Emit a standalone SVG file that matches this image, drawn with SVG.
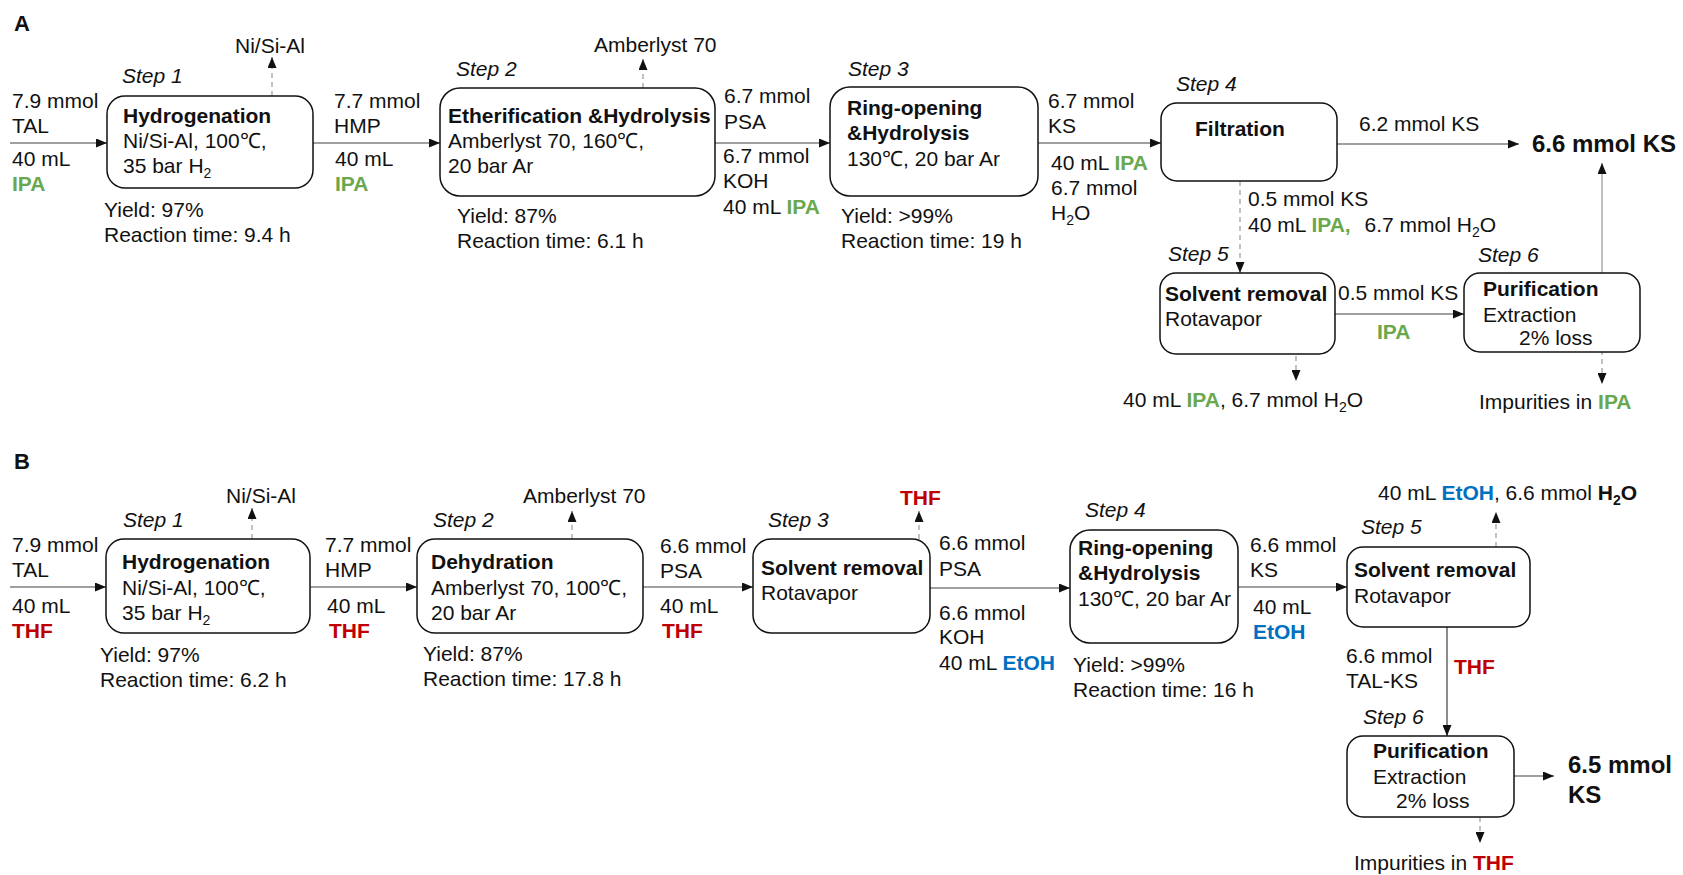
<svg xmlns="http://www.w3.org/2000/svg" width="1683" height="875" viewBox="0 0 1683 875">
<style>
text{font-family:"Liberation Sans",Arial,sans-serif;font-size:21px;fill:#111}
.b{font-weight:bold}
.i{font-style:italic}
.big{font-weight:bold;font-size:24px}
.lbl{font-weight:bold;font-size:22px}
.g{fill:#6aa84f;font-weight:bold}
.r{fill:#c00000;font-weight:bold}
.bl{fill:#0070c0;font-weight:bold}
.box{fill:#fff;stroke:#111;stroke-width:1.5}
.ln{stroke:#404040;stroke-width:1.2;fill:none}
.ds{stroke:#999;stroke-width:1.2;stroke-dasharray:5 4;fill:none}
.gl{stroke:#aaa;stroke-width:1.5;fill:none}
</style>
<defs>
<marker id="ah" markerUnits="userSpaceOnUse" markerWidth="11" markerHeight="9" refX="11" refY="4.5" orient="auto"><path d="M0,0 L11,4.5 L0,9 z" fill="#111"/></marker>
</defs>
<rect width="1683" height="875" fill="#fff"/>

<g id="connectors">
<!-- A -->
<line class="ln" x1="10" y1="143" x2="107" y2="143" marker-end="url(#ah)"/>
<line class="ln" x1="313" y1="143" x2="440" y2="143" marker-end="url(#ah)"/>
<line class="ln" x1="715" y1="143" x2="830" y2="143" marker-end="url(#ah)"/>
<line class="ln" x1="1038" y1="143" x2="1161" y2="143" marker-end="url(#ah)"/>
<line class="ln" x1="1337" y1="144" x2="1519" y2="144" marker-end="url(#ah)"/>
<line class="gl" x1="1602" y1="273" x2="1602" y2="163" marker-end="url(#ah)"/>
<line class="ds" x1="1240" y1="181" x2="1240" y2="273" marker-end="url(#ah)"/>
<line class="ln" x1="1335" y1="314" x2="1464" y2="314" marker-end="url(#ah)"/>
<line class="ds" x1="1296" y1="347" x2="1296" y2="381" marker-end="url(#ah)"/>
<line class="ds" x1="1602" y1="350" x2="1602" y2="384" marker-end="url(#ah)"/>
<line class="ds" x1="272" y1="96" x2="272" y2="57" marker-end="url(#ah)"/>
<line class="ds" x1="643" y1="88" x2="643" y2="59" marker-end="url(#ah)"/>
<!-- B -->
<line class="ln" x1="10" y1="587" x2="106" y2="587" marker-end="url(#ah)"/>
<line class="ln" x1="310" y1="587" x2="417" y2="587" marker-end="url(#ah)"/>
<line class="ln" x1="643" y1="587" x2="753" y2="587" marker-end="url(#ah)"/>
<line class="ln" x1="930" y1="588" x2="1070" y2="588" marker-end="url(#ah)"/>
<line class="ln" x1="1238" y1="587" x2="1347" y2="587" marker-end="url(#ah)"/>
<line class="ds" x1="252" y1="539" x2="252" y2="508" marker-end="url(#ah)"/>
<line class="ds" x1="572" y1="539" x2="572" y2="511" marker-end="url(#ah)"/>
<line class="ds" x1="919" y1="539" x2="919" y2="511" marker-end="url(#ah)"/>
<line class="ds" x1="1496" y1="547" x2="1496" y2="512" marker-end="url(#ah)"/>
<line class="ln" x1="1447" y1="627" x2="1447" y2="736" marker-end="url(#ah)"/>
<line class="ln" x1="1514" y1="776" x2="1554" y2="776" marker-end="url(#ah)"/>
<line class="ds" x1="1480" y1="808" x2="1480" y2="843" marker-end="url(#ah)"/>
</g>

<g id="labels-A">
<text class="lbl" x="14" y="31">A</text>
<text x="235" y="53">Ni/Si-Al</text>
<text x="12" y="108">7.9 mmol</text>
<text x="12" y="133">TAL</text>
<text x="12" y="166">40 mL</text>
<text class="g" x="12" y="191">IPA</text>
<text x="334" y="108">7.7 mmol</text>
<text x="334" y="133">HMP</text>
<text x="335" y="166">40 mL</text>
<text class="g" x="335" y="191">IPA</text>
<text x="594" y="52">Amberlyst 70</text>
<text x="724" y="103">6.7 mmol</text>
<text x="724" y="129">PSA</text>
<text x="723" y="163">6.7 mmol</text>
<text x="723" y="188">KOH</text>
<text x="723" y="214">40 mL <tspan class="g">IPA</tspan></text>
<text x="1048" y="108">6.7 mmol</text>
<text x="1048" y="133">KS</text>
<text x="1051" y="170">40 mL <tspan class="g">IPA</tspan></text>
<text x="1051" y="195">6.7 mmol</text>
<text x="1051" y="220">H<tspan font-size="14" dy="5">2</tspan><tspan dy="-5">O</tspan></text>
<text x="1359" y="131">6.2 mmol KS</text>
<text class="big" x="1532" y="152">6.6 mmol KS</text>
<text x="1248" y="206">0.5 mmol KS</text>
<text x="1248" y="232">40 mL <tspan class="g">IPA,</tspan> <tspan dx="8">6.7 mmol H</tspan><tspan font-size="14" dy="5">2</tspan><tspan dy="-5">O</tspan></text>
<text x="1338" y="300">0.5 mmol KS</text>
<text class="g" x="1377" y="339">IPA</text>
<text x="1123" y="407">40 mL <tspan class="g">IPA</tspan>, 6.7 mmol H<tspan font-size="14" dy="5">2</tspan><tspan dy="-5">O</tspan></text>
<text x="1479" y="409">Impurities in <tspan class="g">IPA</tspan></text>
</g>

<g id="A-step1">
<text class="i" x="122" y="83">Step 1</text>
<rect class="box" x="107" y="96" width="206" height="92" rx="18"/>
<text class="b" x="123" y="123">Hydrogenation</text>
<text x="123" y="148">Ni/Si-Al, 100℃,</text>
<text x="123" y="173">35 bar H<tspan font-size="14" dy="5">2</tspan></text>
<text x="104" y="217">Yield: 97%</text>
<text x="104" y="242">Reaction time: 9.4 h</text>
</g>
<g id="A-step2">
<text class="i" x="456" y="76">Step 2</text>
<rect class="box" x="440" y="88" width="275" height="108" rx="20"/>
<text class="b" x="448" y="123">Etherification &amp;Hydrolysis</text>
<text x="448" y="148">Amberlyst 70, 160℃,</text>
<text x="448" y="173">20 bar Ar</text>
<text x="457" y="223">Yield: 87%</text>
<text x="457" y="248">Reaction time: 6.1 h</text>
</g>
<g id="A-step3">
<text class="i" x="848" y="76">Step 3</text>
<rect class="box" x="830" y="87" width="208" height="109" rx="20"/>
<text class="b" x="847" y="115">Ring-opening</text>
<text class="b" x="847" y="140">&amp;Hydrolysis</text>
<text x="847" y="166">130℃, 20 bar Ar</text>
<text x="841" y="223">Yield: &gt;99%</text>
<text x="841" y="248">Reaction time: 19 h</text>
</g>
<g id="A-step4">
<text class="i" x="1176" y="91">Step 4</text>
<rect class="box" x="1161" y="103" width="176" height="78" rx="16"/>
<text class="b" x="1195" y="136">Filtration</text>
</g>
<g id="A-step5">
<text class="i" x="1168" y="261">Step 5</text>
<rect class="box" x="1160" y="273" width="175" height="81" rx="16"/>
<text class="b" x="1165" y="301">Solvent removal</text>
<text x="1165" y="326">Rotavapor</text>
</g>
<g id="A-step6">
<text class="i" x="1478" y="262">Step 6</text>
<rect class="box" x="1464" y="273" width="176" height="79" rx="16"/>
<text class="b" x="1483" y="296">Purification</text>
<text x="1483" y="322">Extraction</text>
<text x="1519" y="345">2% loss</text>
</g>

<g id="labels-B">
<text class="lbl" x="14" y="469">B</text>
<text x="226" y="503">Ni/Si-Al</text>
<text x="12" y="552">7.9 mmol</text>
<text x="12" y="577">TAL</text>
<text x="12" y="613">40 mL</text>
<text class="r" x="12" y="638">THF</text>
<text x="325" y="552">7.7 mmol</text>
<text x="325" y="577">HMP</text>
<text x="327" y="613">40 mL</text>
<text class="r" x="329" y="638">THF</text>
<text x="523" y="503">Amberlyst 70</text>
<text x="660" y="553">6.6 mmol</text>
<text x="660" y="578">PSA</text>
<text x="660" y="613">40 mL</text>
<text class="r" x="662" y="638">THF</text>
<text class="r" x="900" y="505">THF</text>
<text x="939" y="550">6.6 mmol</text>
<text x="939" y="576">PSA</text>
<text x="939" y="620">6.6 mmol</text>
<text x="939" y="644">KOH</text>
<text x="939" y="670">40 mL <tspan class="bl">EtOH</tspan></text>
<text x="1250" y="552">6.6 mmol</text>
<text x="1250" y="577">KS</text>
<text x="1253" y="614">40 mL</text>
<text class="bl" x="1253" y="639">EtOH</text>
<text x="1378" y="500">40 mL <tspan class="bl">EtOH</tspan>, 6.6 mmol <tspan class="b">H<tspan font-size="14" dy="5">2</tspan><tspan dy="-5">O</tspan></tspan></text>
<text x="1346" y="663">6.6 mmol</text>
<text x="1346" y="688">TAL-KS</text>
<text class="r" x="1454" y="674">THF</text>
<text class="big" x="1568" y="773">6.5 mmol</text>
<text class="big" x="1568" y="803">KS</text>
<text x="1354" y="870">Impurities in <tspan class="r">THF</tspan></text>
</g>

<g id="B-step1">
<text class="i" x="123" y="527">Step 1</text>
<rect class="box" x="106" y="539" width="204" height="94" rx="18"/>
<text class="b" x="122" y="569">Hydrogenation</text>
<text x="122" y="595">Ni/Si-Al, 100℃,</text>
<text x="122" y="620">35 bar H<tspan font-size="14" dy="5">2</tspan></text>
<text x="100" y="662">Yield: 97%</text>
<text x="100" y="687">Reaction time: 6.2 h</text>
</g>
<g id="B-step2">
<text class="i" x="433" y="527">Step 2</text>
<rect class="box" x="417" y="539" width="226" height="94" rx="18"/>
<text class="b" x="431" y="569">Dehydration</text>
<text x="431" y="595">Amberlyst 70, 100℃,</text>
<text x="431" y="620">20 bar Ar</text>
<text x="423" y="661">Yield: 87%</text>
<text x="423" y="686">Reaction time: 17.8 h</text>
</g>
<g id="B-step3">
<text class="i" x="768" y="527">Step 3</text>
<rect class="box" x="753" y="539" width="177" height="94" rx="18"/>
<text class="b" x="761" y="575">Solvent removal</text>
<text x="761" y="600">Rotavapor</text>
</g>
<g id="B-step4">
<text class="i" x="1085" y="517">Step 4</text>
<rect class="box" x="1070" y="530" width="168" height="113" rx="20"/>
<text class="b" x="1078" y="555">Ring-opening</text>
<text class="b" x="1078" y="580">&amp;Hydrolysis</text>
<text x="1078" y="606">130℃, 20 bar Ar</text>
<text x="1073" y="672">Yield: &gt;99%</text>
<text x="1073" y="697">Reaction time: 16 h</text>
</g>
<g id="B-step5">
<text class="i" x="1361" y="534">Step 5</text>
<rect class="box" x="1347" y="547" width="183" height="80" rx="16"/>
<text class="b" x="1354" y="577">Solvent removal</text>
<text x="1354" y="603">Rotavapor</text>
</g>
<g id="B-step6">
<text class="i" x="1363" y="724">Step 6</text>
<rect class="box" x="1347" y="736" width="167" height="81" rx="16"/>
<text class="b" x="1373" y="758">Purification</text>
<text x="1373" y="784">Extraction</text>
<text x="1396" y="808">2% loss</text>
</g>
</svg>
